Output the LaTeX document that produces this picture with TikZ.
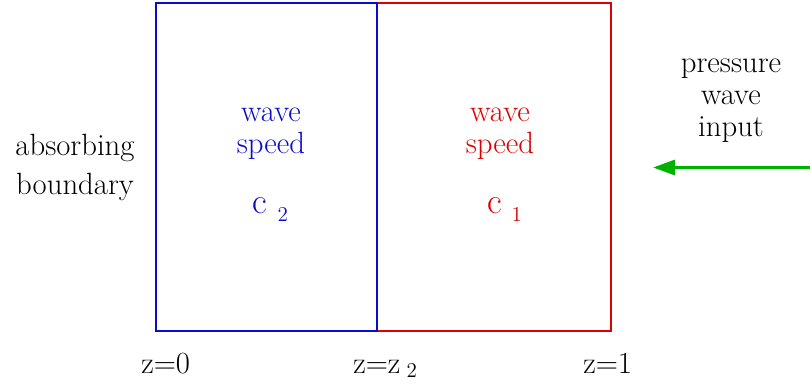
\documentclass[tikz,border=0pt]{standalone}
\usetikzlibrary{arrows.meta}
\definecolor{layerblue}{RGB}{10,10,205}
\definecolor{layerred}{RGB}{220,0,0}
\definecolor{inputgreen}{RGB}{0,178,0}
\tikzset{
  txt/.style={font=\fontsize{17.5}{18.1}\selectfont, inner sep=0pt, align=center, anchor=base},
  speedsym/.style={inner sep=0pt, anchor=base west},
  layer/.style={line width=1.6pt},
}
\newcommand{\WaveSym}[2]{{\fontsize{20.5}{20.5}\selectfont c}\hspace{#2}\raisebox{-5pt}{\fontsize{12}{12}\selectfont #1}}

\begin{document}
\begin{tikzpicture}
        \useasboundingbox (0,0) rectangle (16.2,7.7);

        % Layers
        \draw[layer, layerred] (7.54,1.08) rectangle (12.22,7.64);
        \draw[layer, layerblue] (3.12,1.08) rectangle (7.54,7.64);

        % Wave speeds
        \node[txt, layerblue] (speedtwo) at (5.42,4.64) {wave\\speed};
        \node[txt, layerred] (speedone) at (10.0,4.64) {wave\\speed};
        \node[speedsym, layerblue] (ctwo) at (5.04,3.44) {\WaveSym{2}{6pt}};
        \node[speedsym, layerred] (cone) at (9.74,3.44) {\WaveSym{1}{5.5pt}};

        % Boundary and input
        \node[txt, font=\fontsize{17.5}{22.1}\selectfont] (boundary) at (1.5,3.82) {absorbing\\boundary};
        \node[txt] (input) at (14.62,4.98) {pressure\\wave\\input};
        \coordinate (inflow) at (16.2,4.35);
        \coordinate (inflowtip) at (13.06,4.35);
        \draw[-{Triangle[length=12.5pt,width=8.5pt]}, line width=1.8pt, inputgreen] (inflow) -- (inflowtip);

        % Positions
        \node[txt, anchor=base west] (zzero) at (2.82,0.24) {z=0};
        \node[txt, anchor=base west] (ztwo) at (7.06,0.24) {z=z\hspace{3.5pt}\raisebox{-2.5pt}{\fontsize{12}{12}\selectfont 2}};
        \node[txt, anchor=base west] (zone) at (11.66,0.24) {z=1};

    \end{tikzpicture}
\end{document}
